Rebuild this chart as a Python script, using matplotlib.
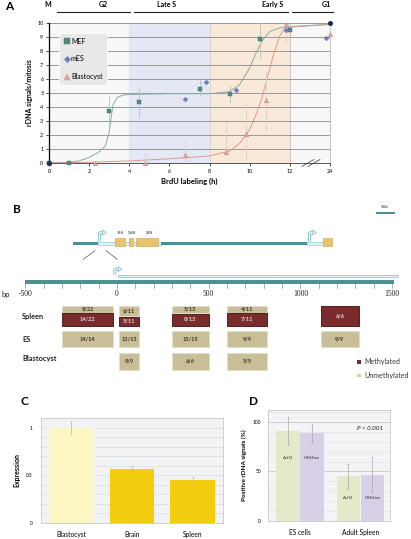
import numpy as np
import matplotlib
matplotlib.use('Agg')
import matplotlib.pyplot as plt
from matplotlib.patches import Rectangle, Polygon

# ---- panel A data (hours, rDNA signals / mitosis) ----
mef_h = [0, 1, 3, 4.5, 7.5, 9, 10.5, 12]
mef_y = [0, 0, 3.7, 4.35, 5.3, 4.95, 8.85, 9.5]
mef_lo = [0, 0, 2.6, 3.3, 4.8, 4.3, 7.4, 8.8]
mef_hi = [0, 0, 4.8, 5.4, 5.9, 5.6, 10.0, 10.0]

mes_h = [6.8, 7.8, 9.3, 11.8, 22.8]
mes_y = [4.6, 5.8, 5.2, 9.5, 8.95]

bla_h = [0, 2.3, 4.8, 6.8, 8.8, 9.8, 10.8, 11.8, 24]
bla_y = [0, 0, 0, 0.57, 0.8, 2.1, 4.5, 9.9, 9.25]
bla_lo = [0, 0, 0, 0.1, 0.55, 0.2, 2.3, 8.5, 9.25]
bla_hi = [0, 0, 0.7, 1.7, 2.9, 4.2, 6.6, 10.0, 9.25]

anchor_h = [0, 24]
anchor_y = [0, 10]

# fitted curves
mef_fit_h = [0, 1, 1.5, 2, 2.5, 2.8, 3.0, 3.1, 3.2, 3.4, 3.7, 4, 6, 8, 9, 9.5, 10, 10.3, 10.6, 11, 11.5, 12, 24]
mef_fit_y = [0, 0.05, 0.15, 0.4, 0.8, 1.2, 2.2, 3.3, 4.2, 4.7, 4.85, 4.9, 4.95, 4.95, 5.1, 5.6, 6.8, 7.8, 8.7, 9.4, 9.65, 9.7, 9.9]
bla_fit_h = [0, 2, 4, 6, 8, 9, 9.5, 10, 10.3, 10.6, 10.9, 11.2, 11.5, 11.8, 12, 24]
bla_fit_y = [0, 0.05, 0.15, 0.3, 0.5, 0.85, 1.4, 2.4, 3.4, 4.6, 6.2, 7.8, 9.1, 9.7, 9.75, 9.9]

xtick_h = [0, 2, 4, 6, 8, 10, 12, 24]

# ---- panel B data ----
regions = [(-300, -20), (10, 120), (300, 500), (600, 820), (1110, 1320)]
spleen_unmeth = ['8/22', '6/11', '5/13', '4/11', None]
spleen_meth = ['14/22', '5/11', '8/13', '7/11', '6/6']
es_unmeth = ['14/14', '13/13', '15/15', '9/9', '9/9']
blasto_unmeth = [None, '9/9', '6/6', '5/5', None]
scale_ticks = [-500, 0, 500, 1000, 1500]

# ---- panel C data ----
c_labels = ['Blastocyst', 'Brain', 'Spleen']
c_vals = [1.0, 0.57, 0.455]
c_err = [0.07, 0.03, 0.03]

# ---- panel D data ----
d_groups = ['ES cells', 'Adult Spleen']
d_ach3 = [91, 45.5]
d_ach3_lo = [77, 32]
d_ach3_hi = [105, 58]
d_h3k4 = [88.5, 46.5]
d_h3k4_lo = [79, 29]
d_h3k4_hi = [98, 65]

W, H = 411, 539
plt.rcParams['font.family'] = ['Lato', 'DejaVu Sans']
fig = plt.figure(figsize=(W / 100, H / 100), dpi=100)


def px_axes(l, t, r, b):
    return fig.add_axes([l / W, 1 - b / H, (r - l) / W, (b - t) / H])


def hpos(h):
    # axis is broken after 12 h, 24 h sits one step further
    return h if h <= 12 else 12 + (h - 12) / 6.0


def pos(hs):
    return [hpos(h) for h in hs]


# ================= A =================
axA = px_axes(49, 23, 330, 163)
axA.set_facecolor('#f8f8f8')
axA.axvspan(4, 8, color='#e3e8f4', zorder=0)
axA.axvspan(8, 12, color='#f9e9d9', zorder=0)
axA.axvline(8, color='#d8d0c8', lw=0.6, zorder=0.5)
axA.axvline(12, color='#c8c8c8', lw=0.6, zorder=0.5)
for y in range(1, 11):
    axA.axhline(y, color='#8a8a8a', lw=0.6, zorder=1)

axA.plot(pos(mef_fit_h), mef_fit_y, color='#86ae9f', lw=0.7, zorder=2)
axA.plot(pos(bla_fit_h), bla_fit_y, color='#dc9a8a', lw=0.7, zorder=2)

m = np.array(mef_y)
axA.errorbar(pos(mef_h), mef_y, yerr=[m - np.array(mef_lo), np.array(mef_hi) - m],
             fmt='none', ecolor='#c4c4bc', elinewidth=0.7, capsize=0, zorder=3)
b = np.array(bla_y)
axA.errorbar(pos(bla_h), bla_y, yerr=[b - np.array(bla_lo), np.array(bla_hi) - b],
             fmt='none', ecolor='#e6cfc4', elinewidth=0.7, capsize=0, zorder=3)

axA.plot(pos(mef_h), mef_y, 's', ms=3.2, color='#4f8c7f', mec='#3c7468', mew=0.3,
         label='MEF', clip_on=False, zorder=5, ls='none')
axA.plot(pos(mes_h), mes_y, 'D', ms=2.4, color='#6b7fc4', mec='#5567a8', mew=0.3,
         label='mES', clip_on=False, zorder=5, ls='none')
axA.plot(pos(bla_h), bla_y, '^', ms=3.4, color='#dba3a3', mec='#c88c8c', mew=0.3,
         label='Blastocyst', clip_on=False, zorder=5, ls='none')
axA.plot(pos(anchor_h), anchor_y, 'o', ms=2.6, color='#1f2c55', clip_on=False, zorder=6)

axA.set_xlim(0, 14)
axA.set_ylim(0, 10)
axA.set_xticks(pos(xtick_h))
axA.set_xticklabels([str(h) for h in xtick_h])
axA.set_yticks(range(0, 11))
axA.tick_params(labelsize=4, length=2, width=0.5, pad=2)
axA.spines['top'].set_visible(False)
axA.spines['right'].set_color('#c8c8c8')
axA.spines['left'].set_linewidth(0.9)
axA.spines['bottom'].set_color('#555555')
axA.spines['bottom'].set_linewidth(0.7)
axA.set_ylabel('rDNA signals/mitosis', fontsize=5, fontweight='bold', labelpad=3)
axA.set_xlabel('BrdU labeling (h)', fontsize=5.5, fontweight='bold', labelpad=3)

# axis break
for dx in (0, 0.3):
    axA.plot([12.6 + dx, 13.2 + dx], [-0.25, 0.25], color='#333333', lw=0.5, clip_on=False, zorder=6)

leg = axA.legend(loc='upper left', bbox_to_anchor=(0.025, 0.955), fontsize=5, frameon=True,
                 fancybox=False, facecolor='#e8e8e8', edgecolor='#ffffff', framealpha=1,
                 labelspacing=1.55, handlelength=0.7, handletextpad=0.25, borderpad=0.7,
                 markerscale=1.3)
leg.get_frame().set_linewidth(0.6)

# cell cycle phases above panel A
tr = axA.get_xaxis_transform()
for x, lab in [(-0.05, 'M'), (2.7, 'G2'), (5.85, 'Late S'), (11.15, 'Early S'), (13.8, 'G1')]:
    axA.text(x, 1.135, lab, transform=tr, fontsize=5, fontweight='bold', ha='center', va='center')
for x0, x1 in [(0.4, 4.05), (4.25, 11.9), (12.1, 14.15)]:
    axA.plot([x0, x1], [1.08, 1.08], transform=tr, color='#222222', lw=0.8, clip_on=False)

# ================= B =================
axM = px_axes(0, 195, 411, 395)
axM.set_xlim(0, 411)
axM.set_ylim(395, 195)
axM.axis('off')

teal = '#4e8f94'
light = '#e2f2f5'
light_edge = '#88c0c8'
gold = '#e9c46a'
gold_edge = '#c9a24a'

map_segments = [(73, 98, 'rod'), (98, 115, 'light'), (115, 125, 'exon'), (125, 129, 'light'),
                (129, 133, 'exon'), (133, 136, 'light'), (136, 158, 'exon'), (158, 161, 'light'),
                (161, 307, 'rod'), (307, 323, 'light'), (323, 332, 'exon')]
for x0, x1, kind in map_segments:
    if kind == 'rod':
        axM.add_patch(Rectangle((x0, 241.5), x1 - x0, 3.5, facecolor=teal, edgecolor='none'))
    elif kind == 'light':
        axM.add_patch(Rectangle((x0, 241.5), x1 - x0, 3.5, facecolor=light, edgecolor=light_edge, lw=0.4))
    else:
        axM.add_patch(Rectangle((x0, 238), x1 - x0, 7.5, facecolor=gold, edgecolor=gold_edge, lw=0.4))
for x, lab in [(120, '18S'), (131.5, '5.8S'), (149, '28S')]:
    axM.text(x, 232.5, lab, fontsize=3.3, family='Liberation Serif', ha='center', va='center')


def tss_arrow(ax, x0, y0, yt, xh, r=2.0):
    # hollow bent arrow: up from the bar, then to the right
    t = np.linspace(0, np.pi / 2, 8)
    xs = [x0] + list(x0 + r - r * np.cos(t)) + [xh]
    ys = [y0] + list(yt + r - r * np.sin(t)) + [yt]
    ax.plot(xs, ys, color=light_edge, lw=2.3, solid_capstyle='butt', zorder=4)
    ax.plot(xs, ys, color='white', lw=0.9, solid_capstyle='butt', zorder=5)
    ax.add_patch(Polygon([(xh - 0.3, yt - 2.4), (xh + 3.3, yt), (xh - 0.3, yt + 2.4)], closed=True,
                         facecolor='white', edgecolor=light_edge, lw=0.6, zorder=6))


tss_arrow(axM, 99.5, 241.5, 232.5, 103)
tss_arrow(axM, 309.5, 241.5, 232.5, 313)
tss_arrow(axM, 114.7, 274.5, 269.2, 118.5)

axM.plot([83.3, 95], [259.3, 250.7], color='#555555', lw=0.5)
axM.plot([106, 117.3], [250.7, 259.3], color='#555555', lw=0.5)

axM.add_patch(Rectangle((376, 211.5), 18.5, 2.5, facecolor=teal, edgecolor='none'))
axM.text(385, 207, '5Kb', fontsize=3.3, family='Liberation Serif', ha='center', va='center')

axM.text(1, 294, 'bp', fontsize=5.5, ha='left', va='center', color='#222222')
for y, lab in [(316, 'Spleen'), (339, 'ES'), (358, 'Blastocyst')]:
    axM.text(22, y, lab, fontsize=5.3, fontweight='bold', ha='left', va='center', color='#222222')

maroon = '#7a2b2b'
tan = '#c8be98'
axM.add_patch(Rectangle((357, 360), 4, 3.5, facecolor=maroon, edgecolor='none'))
axM.add_patch(Rectangle((357, 373.5), 4, 3.5, facecolor='#d5d1a2', edgecolor='none'))
axM.text(364, 361.8, 'Methylated', fontsize=5, ha='left', va='center', color='#333333')
axM.text(364, 375.3, 'Unmethylated', fontsize=5, ha='left', va='center', color='#333333')

# bp scale and methylation boxes
px_per_bp = (392 - 117) / 1500.0
axB = px_axes(0, 195, 411, 395)
axB.set_xlim(-117 / px_per_bp, (411 - 117) / px_per_bp)
axB.set_ylim(395, 195)
axB.axis('off')
axB.patch.set_alpha(0)

axB.add_patch(Rectangle((-500, 279.5), 2010, 4.5, facecolor=teal, edgecolor='none'))
axB.add_patch(Rectangle((5, 274.8), 1530, 2.5, facecolor=light, edgecolor=light_edge, lw=0.5))
for t in range(-500, 1501, 100):
    axB.plot([t, t], [284, 287.5], color='#6f9a9e', lw=0.5)
for t in scale_ticks:
    axB.text(t, 294, str(t), fontsize=5.5, family='Liberation Serif', ha='center', va='center', color='#222222')


def frac(s):
    a, n = s.split('/')
    return int(a) / int(n)


top, bottom = 305.5, 325.5
for (x0, x1), u, mth in zip(regions, spleen_unmeth, spleen_meth):
    split = top + (bottom - top) * (frac(u) if u else 0.0)
    xc = (x0 + x1) / 2
    if u:
        axB.add_patch(Rectangle((x0, top), x1 - x0, split - top, facecolor=tan, edgecolor='#e2ddca', lw=0.5))
        axB.text(xc, (top + split) / 2, u, fontsize=4, fontweight='bold', ha='center', va='center', color='#3a3020')
    axB.add_patch(Rectangle((x0, split + 0.4), x1 - x0, bottom - split - 0.4, facecolor=maroon,
                            edgecolor='#3d1010', lw=0.6))
    axB.text(xc, (split + bottom) / 2, mth, fontsize=4, fontweight='bold', ha='center', va='center', color='#f0dada')

for row, (y0, y1) in [(es_unmeth, (331, 346.5)), (blasto_unmeth, (353, 369.5))]:
    for (x0, x1), lab in zip(regions, row):
        if lab is None:
            continue
        axB.add_patch(Rectangle((x0, y0), x1 - x0, y1 - y0, facecolor=tan, edgecolor='#e2ddca', lw=0.5))
        axB.text((x0 + x1) / 2, (y0 + y1) / 2, lab, fontsize=4, fontweight='bold', ha='center',
                 va='center', color='#3a3020')

# ================= C =================
axC = px_axes(41, 418, 223, 523)
axC.set_facecolor('#f2f3f5')
axC.bar(range(3), c_vals, width=0.74, color=['#fbf6c2', '#f2cc0e', '#f2cc0e'], yerr=c_err,
        ecolor='#b8b8b8', error_kw=dict(elinewidth=0.5, capsize=1, capthick=0.5), zorder=3)
axC.set_xlim(-0.5, 2.5)
axC.set_ylim(0, 1.1)
axC.set_yticks([0, 0.5, 1])
axC.set_yticklabels(['0', '0.5', '1'])
axC.set_yticks(np.arange(0, 1.1, 0.1), minor=True)
axC.grid(which='both', axis='y', color='#dcdde0', lw=0.5, zorder=0)
axC.set_axisbelow(True)
axC.set_xticks(range(3))
axC.set_xticklabels(c_labels)
axC.tick_params(axis='y', labelsize=3.5, length=0, pad=6)
axC.tick_params(axis='y', which='minor', length=0)
axC.tick_params(axis='x', labelsize=4.8, length=0, pad=6)
for s in axC.spines.values():
    s.set_color('#c8c8c8')
    s.set_linewidth(0.6)
axC.set_ylabel('Expression', fontsize=5, fontweight='bold', labelpad=4)

# ================= D =================
axD = px_axes(268, 410, 390, 521)
axD.set_facecolor('#f4f4f6')
gx = np.arange(2)
bw = 0.39
axD.bar(gx - 0.2, d_ach3, width=bw, color='#e4e9c9', zorder=3)
axD.bar(gx + 0.2, d_h3k4, width=bw, color='#d9cfe6', zorder=3)
a3 = np.array(d_ach3)
h4 = np.array(d_h3k4)
axD.errorbar(gx - 0.2, d_ach3, yerr=[a3 - np.array(d_ach3_lo), np.array(d_ach3_hi) - a3],
             fmt='none', ecolor='#a8a8a8', elinewidth=0.5, capsize=1, capthick=0.5, zorder=4)
axD.errorbar(gx + 0.2, d_h3k4, yerr=[h4 - np.array(d_h3k4_lo), np.array(d_h3k4_hi) - h4],
             fmt='none', ecolor='#a8a8a8', elinewidth=0.5, capsize=1, capthick=0.5, zorder=4)
for g, yl in zip(gx, [64, 23]):
    axD.text(g - 0.2, yl, 'AcH3', fontsize=3, ha='center', va='center', color='#333333', zorder=5)
    axD.text(g + 0.2, yl, 'H3K4me', fontsize=3, ha='center', va='center', color='#333333', zorder=5)
axD.text(1.16, 93, 'P < 0.001', fontsize=4.5, style='italic', ha='center', va='center', color='#222222')
axD.set_xlim(-0.53, 1.49)
axD.set_ylim(0, 112)
axD.set_yticks([0, 50, 100])
axD.set_yticks(np.arange(0, 112, 10), minor=True)
axD.grid(which='minor', axis='y', color='#e2e2e4', lw=0.5, zorder=0)
axD.grid(which='major', axis='y', color='#c8c8c8', lw=0.6, zorder=0)
axD.set_axisbelow(True)
axD.set_xticks(gx)
axD.set_xticklabels(d_groups)
axD.tick_params(axis='y', which='both', labelsize=3.5, length=0, pad=5)
axD.tick_params(axis='x', labelsize=4.8, length=0, pad=6)
for s in axD.spines.values():
    s.set_color('#c8c8c8')
    s.set_linewidth(0.6)
axD.set_ylabel('Positive rDNA signals (%)', fontsize=4.6, fontweight='bold', labelpad=4)

# panel letters
for x, y, lab in [(5, 7, 'A'), (13, 209.5, 'B'), (20.5, 401.5, 'C'), (248.5, 401.5, 'D')]:
    fig.text(x / W, 1 - y / H, lab, fontsize=8.5, fontweight='bold', ha='left', va='center')

fig.savefig('out.png', dpi=100)
